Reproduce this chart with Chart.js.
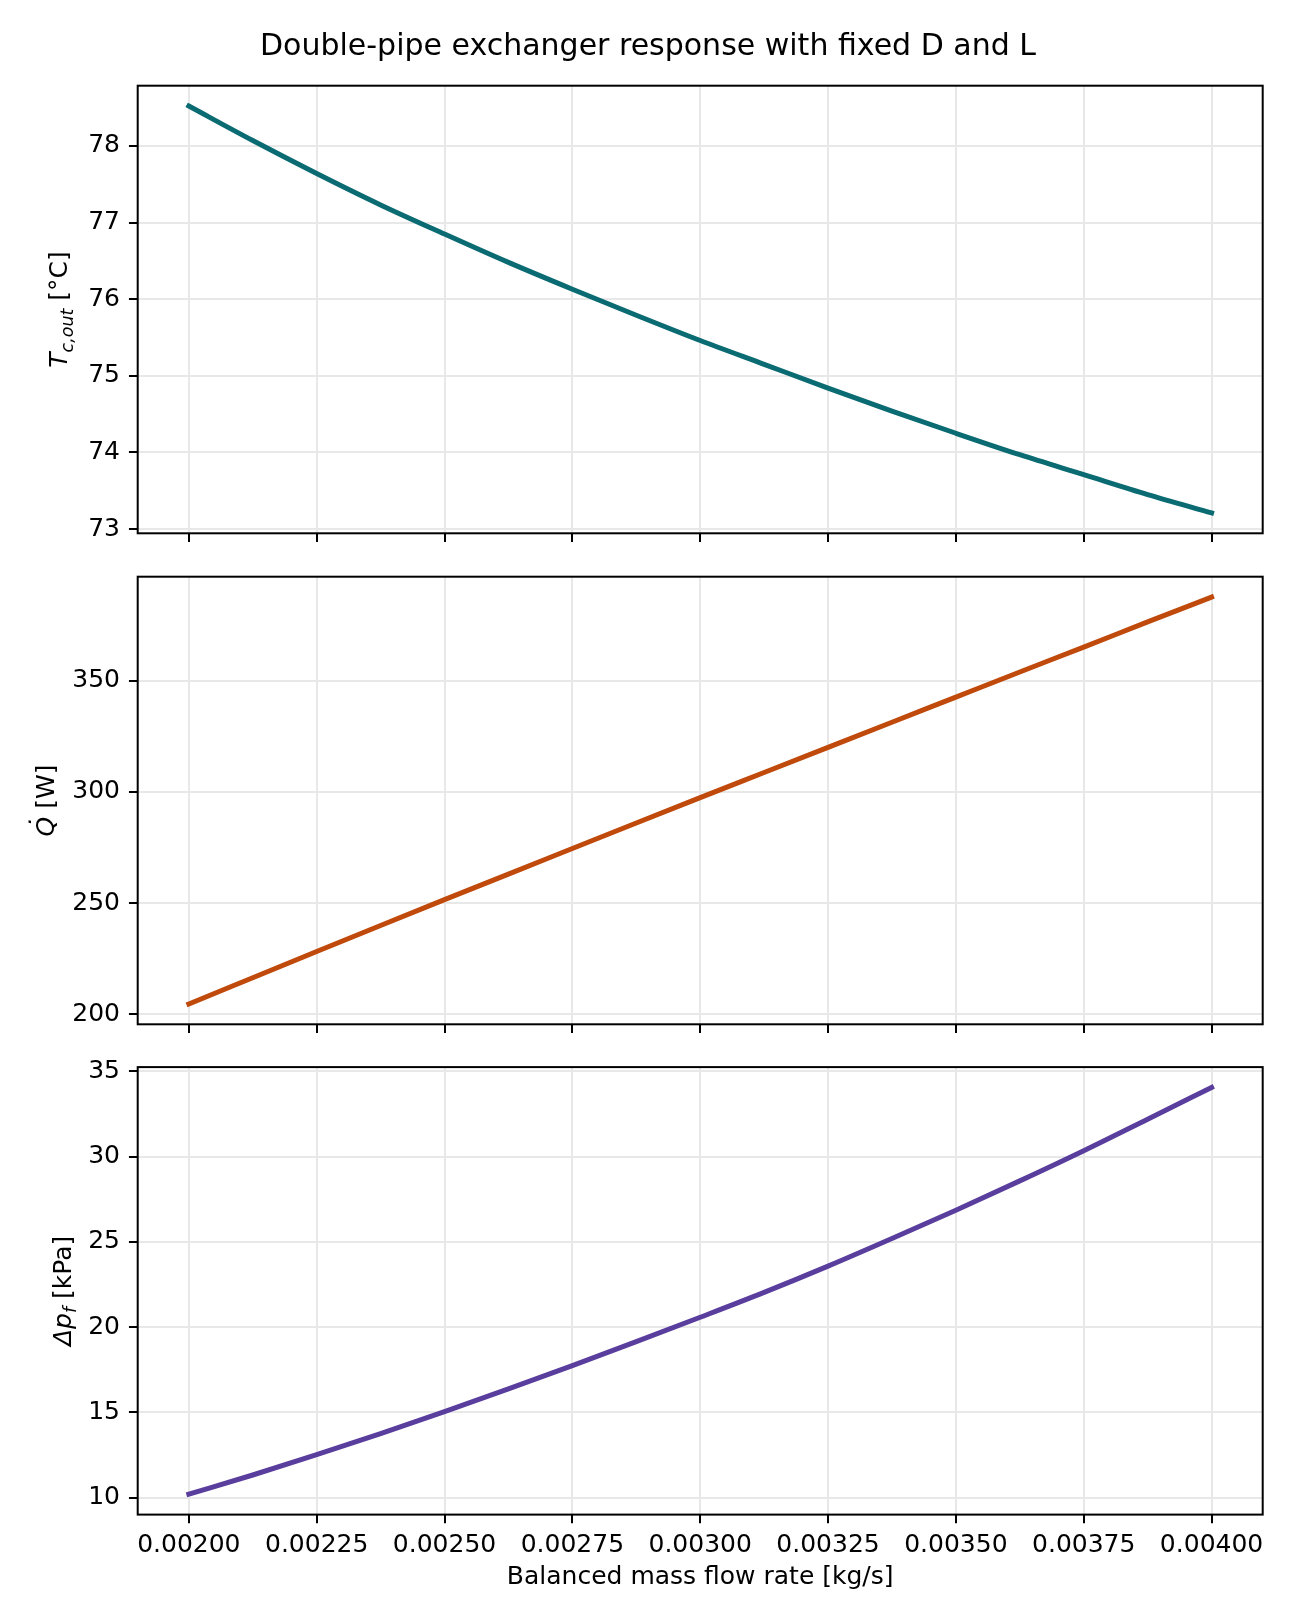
<!DOCTYPE html>
<html>
<head>
<meta charset="utf-8">
<script src="https://cdn.jsdelivr.net/npm/chart.js@4.4.1/dist/chart.umd.min.js"></script>
<style>
html, body { margin: 0; padding: 0; background: #ffffff; }
body { width: 1296px; height: 1620px; position: relative; overflow: hidden; }
canvas { position: absolute; left: 0; }
</style>
</head>
<body>
<canvas id="c1" width="1296" height="560" style="top:0px"></canvas>
<canvas id="c2" width="1296" height="500" style="top:550px"></canvas>
<canvas id="c3" width="1296" height="580" style="top:1040px"></canvas>
<script>
// ---------------- data ----------------
const massFlow = [0.002, 0.002125, 0.00225, 0.002375, 0.0025, 0.002625, 0.00275, 0.002875,
                  0.003, 0.003125, 0.00325, 0.003375, 0.0035, 0.003625, 0.00375, 0.003875, 0.004];
const tColdOut = [78.52, 78.07, 77.64, 77.23, 76.85, 76.48, 76.13, 75.79,
                  75.46, 75.15, 74.84, 74.54, 74.25, 73.97, 73.71, 73.45, 73.21];
const heatRate = [204.6, 216.4, 228.2, 239.9, 251.5, 263.0, 274.5, 286.0,
                  297.4, 308.7, 320.0, 331.3, 342.6, 353.9, 365.1, 376.4, 387.6];
const pressureDrop = [10.2, 11.33, 12.52, 13.76, 15.05, 16.38, 17.75, 19.15,
                      20.58, 22.04, 23.58, 25.2, 26.86, 28.58, 30.35, 32.2, 34.06];
const xTicks = [0.002, 0.00225, 0.0025, 0.00275, 0.003, 0.00325, 0.0035, 0.00375, 0.004];
const tTicks = [73, 74, 75, 76, 77, 78];
const qTicks = [200, 250, 300, 350];
const pTicks = [10, 15, 20, 25, 30, 35];
const titleText = 'Double-pipe exchanger response with fixed D and L';
const xLabelText = 'Balanced mass flow rate [kg/s]';
const tLabel = [{t: 'T', it: true}, {t: 'c,out', it: true, sub: true}, {t: ' [°C]'}];
const qLabel = [{t: 'Q', it: true, dot: true}, {t: ' [W]'}];
const pLabel = [{t: 'Δ', it: true}, {t: 'p', it: true}, {t: 'f', it: true, sub: true}, {t: ' [kPa]'}];

// ---------------- style / geometry ----------------
const FONT = 'DejaVu Sans';
const GRID = '#e8e8e8';
const PLOT_LEFT = 137.7;
const PAD_SIDE = 33.3;
const TICK_FONT = {family: FONT, size: 25};

function autoRange(arr) {
  const lo = Math.min(...arr), hi = Math.max(...arr);
  const m = (hi - lo) * 0.05;
  return [lo - m, hi + m];
}

function drawRich(ctx, segs, x, cy, size) {
  ctx.save();
  ctx.translate(x, cy);
  ctx.rotate(-Math.PI / 2);
  ctx.fillStyle = '#000';
  ctx.textBaseline = 'alphabetic';
  ctx.textAlign = 'left';
  let total = 0;
  const items = segs.map(s => {
    const fs = s.sub ? size * 0.7 : size;
    const f = (s.it ? 'italic ' : '') + fs + 'px "' + FONT + '"';
    ctx.font = f;
    const w = ctx.measureText(s.t).width;
    total += w;
    return {s, f, w};
  });
  let cx = -total / 2;
  for (const it of items) {
    ctx.font = it.f;
    const dy = it.s.sub ? size * 0.22 : 0;
    ctx.fillText(it.s.t, cx, dy);
    if (it.s.dot) {
      ctx.textAlign = 'center';
      ctx.fillText('\u02D9', cx + it.w / 2 + size * 0.1, -size * 0.3);
      ctx.textAlign = 'left';
    }
    cx += it.w;
  }
  ctx.restore();
}

const framePlugin = {
  id: 'frame',
  afterDatasetsDraw(chart) {
    const a = chart.chartArea, ctx = chart.ctx;
    ctx.save();
    ctx.strokeStyle = '#000';
    ctx.lineWidth = 2;
    ctx.strokeRect(a.left, a.top, a.right - a.left, a.bottom - a.top);
    ctx.restore();
  }
};

const yLabelPlugin = {
  id: 'ylabelRich',
  afterDraw(chart, args, opts) {
    const a = chart.chartArea;
    drawRich(chart.ctx, opts.segs, opts.x, (a.top + a.bottom) / 2, 25);
  }
};

function makeChart(id, values, yTicks, color, o) {
  const [xmin, xmax] = autoRange(massFlow);
  const [ymin, ymax] = autoRange(values);
  const pts = massFlow.map((x, i) => ({x: x, y: values[i]}));
  return new Chart(document.getElementById(id), {
    type: 'line',
    data: {
      datasets: [{
        data: pts,
        borderColor: color,
        borderWidth: 5,
        pointRadius: 0,
        fill: false,
        cubicInterpolationMode: 'monotone',
        borderCapStyle: 'square',
        borderJoinStyle: 'round'
      }]
    },
    options: {
      responsive: false,
      animation: false,
      devicePixelRatio: 1,
      events: [],
      layout: {padding: {left: PAD_SIDE, right: PAD_SIDE, top: o.padTop, bottom: 0}},
      plugins: {
        legend: {display: false},
        tooltip: {enabled: false},
        title: o.title || {display: false},
        ylabelRich: {segs: o.ylabel, x: o.ylabelX}
      },
      scales: {
        x: {
          type: 'linear',
          position: 'bottom',
          min: xmin,
          max: xmax,
          afterBuildTicks: s => { s.ticks = xTicks.map(v => ({value: v})); },
          afterFit: s => { s.height = o.xHeight; },
          grid: {color: GRID, lineWidth: 2, drawTicks: true, tickLength: 8.75, tickColor: '#000', tickWidth: 2},
          border: {display: false},
          ticks: {
            display: o.showX,
            font: TICK_FONT,
            color: '#000',
            padding: 7,
            maxRotation: 0,
            autoSkip: false,
            callback: v => Number(v).toFixed(5)
          },
          title: o.xTitle || {display: false}
        },
        y: {
          type: 'linear',
          position: 'left',
          min: ymin,
          max: ymax,
          afterBuildTicks: s => { s.ticks = yTicks.map(v => ({value: v})); },
          afterFit: s => { s.width = PLOT_LEFT - PAD_SIDE; },
          grid: {color: GRID, lineWidth: 2, drawTicks: true, tickLength: 8.75, tickColor: '#000', tickWidth: 2},
          border: {display: false},
          ticks: {
            font: TICK_FONT,
            color: '#000',
            padding: 9,
            autoSkip: false,
            callback: v => String(v)
          }
        }
      }
    },
    plugins: [framePlugin, yLabelPlugin]
  });
}

makeChart('c1', tColdOut, tTicks, '#0b6b72', {
  padTop: 0,
  xHeight: 26.7,
  showX: false,
  ylabel: tLabel,
  ylabelX: 67.4,
  title: {
    display: true,
    text: titleText,
    color: '#000',
    font: {family: FONT, size: 30, weight: 'normal'},
    padding: {top: 29, bottom: 20.7}
  }
});

makeChart('c2', heatRate, qTicks, '#c04a0b', {
  padTop: 26.7,
  xHeight: 25.7,
  showX: false,
  ylabel: qLabel,
  ylabelX: 54.3
});

makeChart('c3', pressureDrop, pTicks, '#5a3e9e', {
  padTop: 27.1,
  xHeight: 105.4,
  showX: true,
  ylabel: pLabel,
  ylabelX: 70.7,
  xTitle: {
    display: true,
    text: xLabelText,
    color: '#000',
    font: {family: FONT, size: 25, weight: 'normal'},
    padding: {top: 0, bottom: 28}
  }
});
</script>
</body>
</html>
